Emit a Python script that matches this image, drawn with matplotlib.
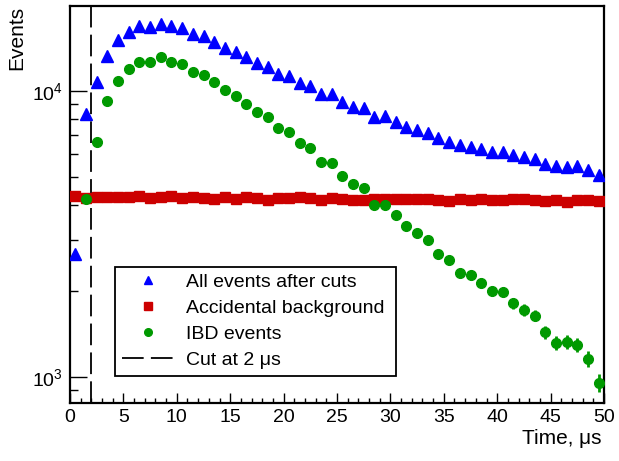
import numpy as np
import matplotlib
matplotlib.use("Agg")
import matplotlib.pyplot as plt
from matplotlib.lines import Line2D
from matplotlib.ticker import LogLocator, FixedLocator, MultipleLocator, NullFormatter

plt.rcParams['font.family'] = ['Liberation Sans', 'DejaVu Sans']
plt.rcParams['mathtext.fontset'] = 'custom'
plt.rcParams['mathtext.rm'] = 'Liberation Sans'
plt.rcParams['mathtext.it'] = 'Liberation Sans'

time_bins = [0.5 + i for i in range(50)]

all_events = [2690, 8300, 10780, 13285, 15000, 16070, 16790, 16700, 17190, 16790,
              16520, 15780, 15530, 14830, 14170, 13690, 13150, 12560, 12160, 11490,
              11280, 10660, 10410, 9730, 9730, 9174, 8812, 8675, 8130, 8150,
              7810, 7500, 7305, 7130, 6833, 6648, 6472, 6384, 6250, 6135,
              6120, 5975, 5877, 5770, 5546, 5458, 5396, 5458, 5296, 5060]

accidental = [4272, 4227, 4250, 4250, 4250, 4250, 4295, 4227, 4250, 4295,
              4227, 4250, 4227, 4180, 4250, 4180, 4250, 4227, 4158, 4203,
              4203, 4250, 4227, 4158, 4203, 4180, 4158, 4165, 4190, 4185,
              4185, 4185, 4185, 4185, 4158, 4120, 4200, 4158, 4170, 4165,
              4160, 4190, 4195, 4158, 4130, 4158, 4100, 4158, 4158, 4120]

ibd = [np.nan, 4190, 6615, 9203, 10840, 11970, 12630, 12600, 13120, 12630,
       12430, 11680, 11350, 10750, 10080, 9605, 9005, 8446, 8094, 7440,
       7172, 6545, 6287, 5646, 5600, 5045, 4730, 4566, 4003, 4003,
       3685, 3373, 3180, 3013, 2692, 2564, 2316, 2268, 2137, 1988,
       1977, 1810, 1714, 1638, 1429, 1318, 1323, 1297, 1159, 955]

ibd_err = [0, 91, 104, 115, 122, 127, 130, 129, 131, 130,
           129, 126, 125, 122, 119, 117, 115, 112, 110, 107,
           106, 103, 102, 99, 99, 96, 94, 93, 90, 90,
           88, 87, 85, 84, 83, 82, 80, 80, 79, 78,
           78, 77, 77, 76, 74, 74, 73, 74, 73, 71]

cut_time = 2
labels = ['All events after cuts', 'Accidental background', 'IBD events', 'Cut at 2 μs']

fig = plt.figure(figsize=(6.19, 4.61), dpi=100)
ax = fig.add_axes([70/619, 1-403/461, 534/619, 397/461])

blue = '#0000ff'
red = '#cc0000'
green = '#009900'

ax.plot(time_bins, all_events, ls='none', marker='^', ms=8, color=blue, mec=blue, zorder=3)
ax.plot(time_bins, accidental, ls='none', marker='s', ms=7, color=red, mec=red, zorder=3)
ax.errorbar(time_bins, ibd, yerr=ibd_err, fmt='o', ms=7, color=green, mec=green,
            ecolor=green, elinewidth=2, capsize=0, zorder=4)
ax.axvline(cut_time, color='black', lw=1.3, dashes=(12, 4), zorder=2)

ax.set_yscale('log')
ax.set_xlim(0, 50)
ax.set_ylim(810, 19800)

ax.xaxis.set_major_locator(MultipleLocator(5))
ax.xaxis.set_minor_locator(MultipleLocator(1))
ax.yaxis.set_major_locator(FixedLocator([1000, 10000]))
ax.yaxis.set_minor_locator(LogLocator(base=10, subs=np.arange(2, 10)))
ax.yaxis.set_minor_formatter(NullFormatter())
ax.set_yticklabels(['$10^{3}$', '$10^{4}$'])

ax.tick_params(axis='both', which='both', direction='in', top=False, right=False,
               labelsize=14, width=1)
ax.tick_params(axis='y', which='major', length=12, pad=5)
ax.tick_params(axis='y', which='minor', length=6)
ax.tick_params(axis='x', which='major', length=7.5, pad=4)
ax.tick_params(axis='x', which='minor', length=3.8)

for sp in ax.spines.values():
    sp.set_linewidth(1.6)

fig.text(17/619, 1-6/461, 'Events', rotation=90, ha='center', va='top', fontsize=15)
fig.text(601/619, 1-444/461, 'Time, μs', ha='right', va='baseline', fontsize=15)

handles = [
    Line2D([], [], ls='none', marker='^', ms=6, color=blue, mec=blue),
    Line2D([], [], ls='none', marker='s', ms=5.5, color=red, mec=red),
    Line2D([], [], ls='none', marker='o', ms=5.5, color=green, mec=green),
    Line2D([], [], color='black', lw=1.3, dashes=(12, 4)),
]
leg = ax.legend(handles, labels, loc='lower left',
                bbox_to_anchor=((115-70)/534, (403-376)/397, (396-115)/534, (376-268)/397),
                mode='expand', borderaxespad=0, fontsize=14, frameon=True,
                fancybox=False, edgecolor='black', framealpha=1,
                handlelength=2.7, handletextpad=0.6, labelspacing=0.43, borderpad=0.35)
leg.get_frame().set_linewidth(1.3)

fig.savefig('out.png', dpi=100)
